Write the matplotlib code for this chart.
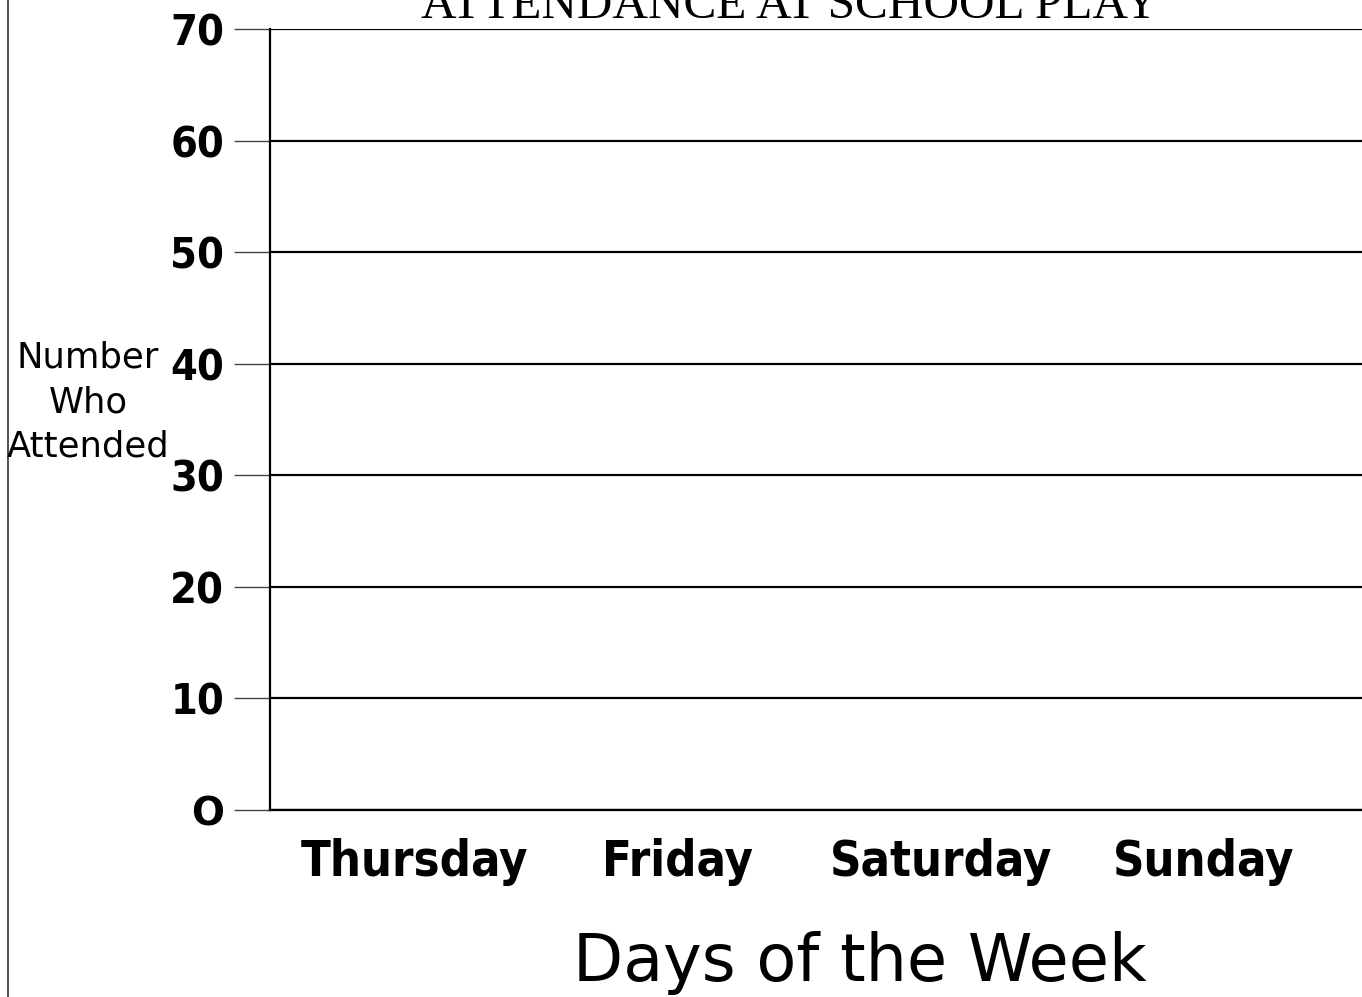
import matplotlib
matplotlib.use("Agg")
import matplotlib.pyplot as plt
from matplotlib.lines import Line2D

# blank template: only the axis scale and categories
days = ["Thursday", "Friday", "Saturday", "Sunday"]
y_ticks = [0, 10, 20, 30, 40, 50, 60, 70]
y_labels = ["O", "10", "20", "30", "40", "50", "60", "70"]
title = "ATTENDANCE AT SCHOOL PLAY"

fig = plt.figure(figsize=(13.62, 9.97), dpi=100)
ax = fig.add_axes([270/1362, 1-810/997, 1-270/1362, (810-29)/997])

ax.set_ylim(0, 70)
ax.set_xlim(-0.55, 3.6)
ax.set_yticks(y_ticks)
ax.set_yticklabels(y_labels, fontsize=31, fontweight="bold", fontstretch="condensed")
ax.get_yticklabels()[0].set_fontsize(28)
ax.get_yticklabels()[0].set_fontstretch("normal")
ax.tick_params(axis="y", length=26, width=1.0, color="#444444", pad=7)

ax.set_xticks(range(len(days)))
ax.set_xticklabels(days, fontsize=35, fontweight="bold", fontstretch="condensed")
ax.tick_params(axis="x", length=0, pad=20)

for v in y_ticks:
    ax.axhline(v, color="black", lw=1.6, zorder=1)

ax.spines["right"].set_visible(False)
ax.spines["top"].set_visible(False)
ax.spines["left"].set_linewidth(1.6)
ax.spines["bottom"].set_linewidth(1.6)

fig.text(790/1362, 1-18/997, title, ha="center", va="baseline",
         fontsize=35.5, family=["Liberation Serif", "DejaVu Serif"])
fig.text(88/1362, 1-402/997, "Number\nWho\nAttended", ha="center", va="center",
         multialignment="center", fontsize=25.5, linespacing=1.4)
fig.text(860/1362, 1-981/997, "Days of the Week", ha="center", va="baseline", fontsize=47)

fig.add_artist(Line2D([8/1362, 8/1362], [0, 1], color="#333333", lw=1.2))

fig.savefig("out.png", dpi=100)
